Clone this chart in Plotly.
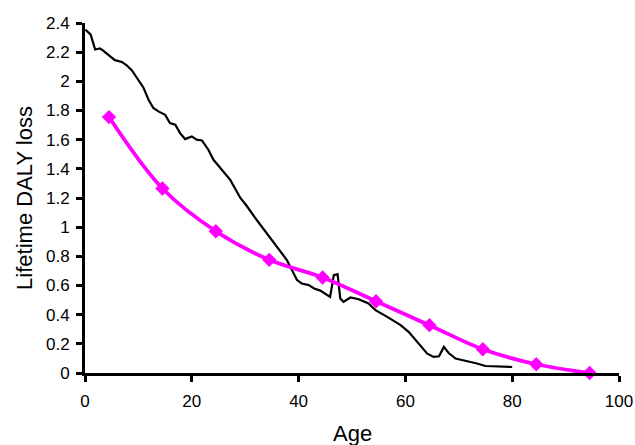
import plotly.graph_objects as go

# Black line: observed lifetime DALY loss by age
black_age = [0.06, 1.06, 1.9, 2.8, 3.4, 4.7, 5.6, 6.9, 7.8, 8.75, 10.0, 10.9, 11.9, 12.8, 13.75,
             15.0, 15.9, 16.9, 17.8, 18.75, 20.0, 20.9, 21.9, 23.1, 24.06, 25.5, 27.2, 29.1, 30.3,
             31.7, 33.0, 34.1, 35.9, 37.8, 39.7, 40.6, 41.9, 42.9, 44.06, 45.9, 46.6, 47.3,
             47.8, 48.4, 49.7, 51.25, 53.1, 54.4, 56.6, 59.1, 60.6, 62.2, 64.1, 65.3, 66.3,
             67.2, 68.1, 69.4, 71.6, 73.4, 75.0, 77.2, 80.0]
black_loss = [2.355, 2.32, 2.218, 2.225, 2.21, 2.17, 2.145, 2.133, 2.11, 2.076, 2.007, 1.96,
              1.874, 1.817, 1.794, 1.771, 1.714, 1.703, 1.645, 1.604, 1.622, 1.6, 1.595, 1.531,
              1.462, 1.40, 1.324, 1.20, 1.145, 1.072, 1.01, 0.958, 0.866, 0.775, 0.637, 0.614,
              0.603, 0.58, 0.565, 0.522, 0.671, 0.678, 0.511, 0.488, 0.518, 0.506, 0.477,
              0.431, 0.385, 0.328, 0.282, 0.213, 0.133, 0.11, 0.115, 0.179, 0.137, 0.099,
              0.082, 0.065, 0.048, 0.046, 0.041]

# Magenta line: modelled values at 10-year age groups
mag_age = [4.5, 14.5, 24.5, 34.5, 44.5, 54.5, 64.5, 74.5, 84.5, 94.5]
mag_loss = [1.755, 1.265, 0.972, 0.776, 0.655, 0.492, 0.328, 0.163, 0.06, 0.0]

x_ticks = [0, 20, 40, 60, 80, 100]
y_ticks = [0, 0.2, 0.4, 0.6, 0.8, 1, 1.2, 1.4, 1.6, 1.8, 2, 2.2, 2.4]

fig = go.Figure()
fig.add_trace(go.Scatter(x=black_age, y=black_loss, mode="lines",
                         line=dict(color="black", width=2.2), showlegend=False))
fig.add_trace(go.Scatter(x=mag_age, y=mag_loss, mode="lines+markers",
                         line=dict(color="#FF00FF", width=3.8, shape="spline", smoothing=1.0),
                         marker=dict(symbol="diamond", size=11, color="#FF00FF"),
                         showlegend=False, cliponaxis=False))

font = "Liberation Sans, Arial, sans-serif"
fig.update_layout(
    width=635, height=445,
    margin=dict(l=85, r=16, t=23, b=72),
    paper_bgcolor="white", plot_bgcolor="white",
    font=dict(family=font, color="black", size=17),
    xaxis=dict(range=[0, 100], tickvals=x_ticks, showgrid=False, zeroline=False,
               showline=True, linecolor="black", linewidth=3, automargin=False,
               ticks="outside", ticklen=6, tickwidth=3, tickcolor="black",
               tickfont=dict(size=17), ticklabelstandoff=5),
    yaxis=dict(range=[0, 2.4], tickvals=y_ticks, showgrid=False, zeroline=False,
               showline=True, linecolor="black", linewidth=3, automargin=False,
               ticks="outside", ticklen=6, tickwidth=3, tickcolor="black",
               tickfont=dict(size=17), ticklabelstandoff=3,
               title=dict(text="Lifetime DALY loss", font=dict(size=22), standoff=8)),
    annotations=[dict(text="Age", xref="paper", yref="paper", x=0.5, y=-0.174,
                      xanchor="center", yanchor="middle", showarrow=False,
                      font=dict(size=22, family=font, color="black"))],
)

# remove the default 8px page margin so the figure sits at the window's top-left
fig.write_html("out.html",
               config={"displayModeBar": False},
               post_script="document.body.style.margin='0';document.body.style.overflow='hidden';")
